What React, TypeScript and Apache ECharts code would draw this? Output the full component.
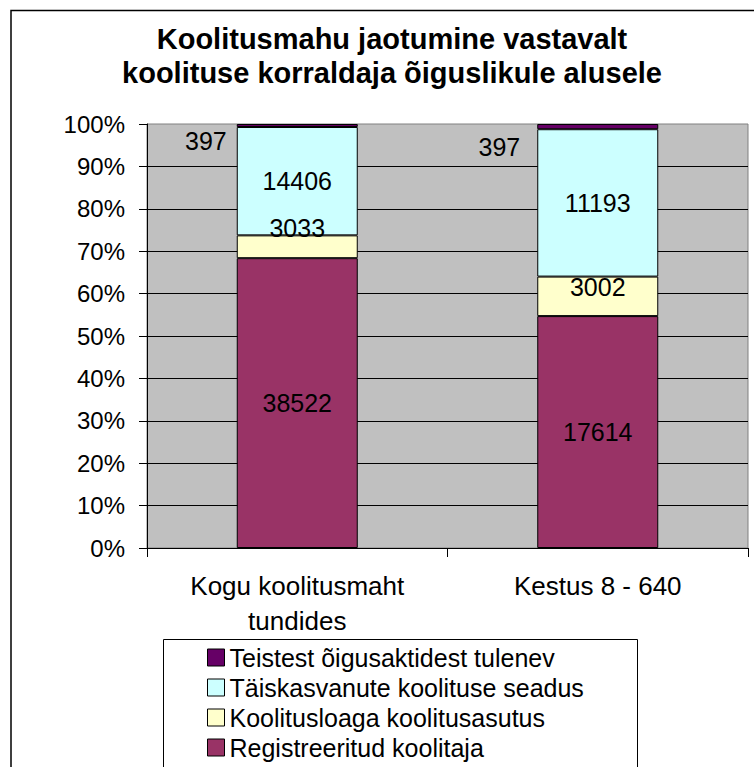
import React, { useEffect, useRef } from "react";
import * as echarts from "echarts";

const categories = ["Kogu koolitusmaht\ntundides", "Kestus 8 - 640"];
const seriesNames = [
  "Registreeritud koolitaja",
  "Koolitusloaga koolitusasutus",
  "Täiskasvanute koolituse seadus",
  "Teistest õigusaktidest tulenev",
];
const registreeritud = [38522, 17614];
const koolitusloaga = [3033, 3002];
const taiskasvanute = [14406, 11193];
const teistest = [397, 397];
const colors = ["#993366", "#FFFFCC", "#CCFFFF", "#660066"];

const FONT = "'Liberation Sans', Arial, sans-serif";

export default function App() {
  const ref = useRef<HTMLDivElement>(null);
  useEffect(() => {
    if (!ref.current) return;
    const chart = echarts.init(ref.current, null, { renderer: "svg" });
    const raw = [registreeritud, koolitusloaga, taiskasvanute, teistest];
    const totals = categories.map((_, i) => raw.reduce((s, arr) => s + arr[i], 0));

    // label placement per series / per category (styling only)
    const labelCfg: any[][] = [
      [{ position: "inside" }, { position: "inside" }],
      [
        { position: "inside", offset: [0, -19] },
        { position: "inside", offset: [0, -9] },
      ],
      [{ position: "inside" }, { position: "inside" }],
      [
        { position: "left", distance: 10, offset: [0, 16] },
        { position: "left", distance: 17, offset: [0, 20] },
      ],
    ];

    const series = raw.map((arr, si) => ({
      name: seriesNames[si],
      type: "bar",
      stack: "total",
      barWidth: 121,
      itemStyle: { color: colors[si], borderColor: "#000", borderWidth: 1 },
      data: arr.map((v, ci) => ({
        value: (v / totals[ci]) * 100,
        label: {
          show: true,
          color: "#000",
          fontSize: 25,
          fontFamily: FONT,
          formatter: String(v),
          ...labelCfg[si][ci],
        },
      })),
    }));

    chart.setOption({
      animation: false,
      backgroundColor: "#fff",
      title: {
        text: "Koolitusmahu jaotumine vastavalt\nkoolituse korraldaja õiguslikule alusele",
        left: 392,
        top: 22,
        textAlign: "center",
        padding: 0,
        textStyle: {
          fontFamily: FONT,
          fontSize: 29,
          fontWeight: "bold",
          lineHeight: 34,
          color: "#000",
        },
      },
      graphic: [
        {
          type: "rect",
          shape: { x: 11, y: 10.5, width: 800, height: 800 },
          style: { fill: "none", stroke: "#000", lineWidth: 1.5 },
          z: 100,
        },
        {
          type: "rect",
          shape: { x: 163.5, y: 639.5, width: 474, height: 200 },
          style: { fill: "#fff", stroke: "#000", lineWidth: 1 },
          z: 0,
        },
      ],
      legend: {
        data: [seriesNames[3], seriesNames[2], seriesNames[1], seriesNames[0]],
        orient: "vertical",
        left: 207,
        top: 645,
        padding: 0,
        itemWidth: 17,
        itemHeight: 17,
        itemGap: 5,
        icon: "rect",
        itemStyle: { borderColor: "#000", borderWidth: 1 },
        textStyle: { fontFamily: FONT, fontSize: 25, lineHeight: 25, color: "#000" },
        z: 10,
      },
      grid: {
        left: 147,
        right: 6,
        top: 124,
        bottom: 219,
        containLabel: false,
        show: true,
        backgroundColor: "#C0C0C0",
        borderColor: "#808080",
        borderWidth: 1,
      },
      xAxis: {
        type: "category",
        data: categories,
        axisLine: { show: true, lineStyle: { color: "#000", width: 1 } },
        axisTick: { show: true, alignWithLabel: false, length: 9, lineStyle: { color: "#000" } },
        axisLabel: {
          color: "#000",
          fontFamily: FONT,
          fontSize: 26,
          lineHeight: 35,
          margin: 20,
          interval: 0,
        },
      },
      yAxis: {
        type: "value",
        min: 0,
        max: 100,
        interval: 10,
        axisLine: { show: true, lineStyle: { color: "#000", width: 1 } },
        axisTick: { show: true, length: 8, lineStyle: { color: "#000" } },
        axisLabel: {
          color: "#000",
          fontFamily: FONT,
          fontSize: 24,
          margin: 22,
          formatter: "{value}%",
        },
        splitLine: {
          show: true,
          showMaxLine: false,
          lineStyle: { color: "#000", width: 1 },
        },
      },
      series,
    });
    return () => chart.dispose();
  }, []);
  return (
    <div
      ref={ref}
      style={{ position: "fixed", left: 0, top: 0, width: 754, height: 767 }}
    />
  );
}
